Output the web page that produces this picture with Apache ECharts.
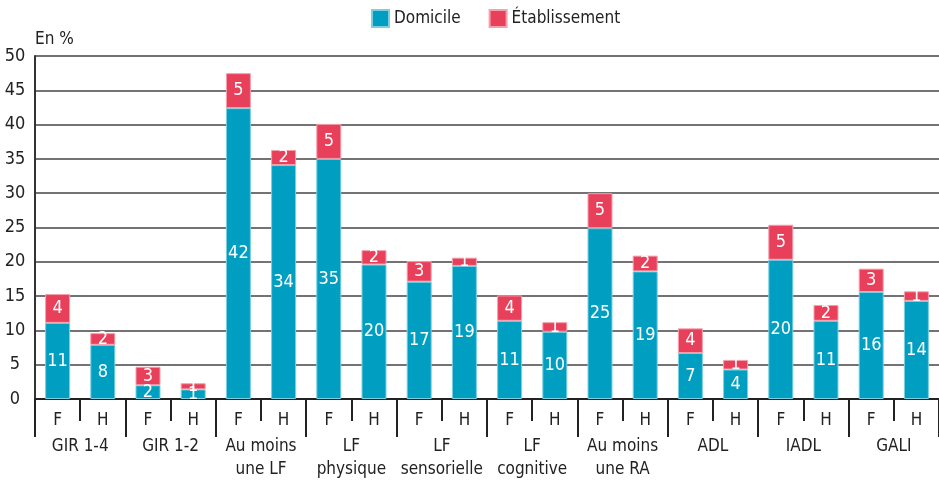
<!DOCTYPE html>
<html>
<head>
<meta charset="utf-8">
<script src="https://cdn.jsdelivr.net/npm/echarts@6/dist/echarts.min.js"></script>
<style>
  html, body { margin: 0; padding: 0; background: #fff; }
  #chart { width: 939px; height: 483px; }
</style>
</head>
<body>
<div id="chart"></div>
<script>
const sexes = ['F', 'H', 'F', 'H', 'F', 'H', 'F', 'H', 'F', 'H',
  'F', 'H', 'F', 'H', 'F', 'H', 'F', 'H', 'F', 'H'];
const groups = ['GIR 1-4', 'GIR 1-2', 'Au moins\nune LF', 'LF\nphysique', 'LF\nsensorielle',
  'LF\ncognitive', 'Au moins\nune RA', 'ADL', 'IADL', 'GALI'];
const domicile = [11.1, 7.9, 2.0, 1.4, 42.4, 34.1, 35.0, 19.6, 17.1, 19.4,
  11.4, 9.8, 24.9, 18.6, 6.7, 4.3, 20.3, 11.4, 15.6, 14.3];
const etablissement = [4.2, 1.7, 2.7, 0.9, 5.1, 2.2, 5.1, 2.1, 3.0, 1.2,
  3.7, 1.4, 5.1, 2.3, 3.6, 1.4, 5.1, 2.3, 3.4, 1.4];
const yTicks = [0, 50, 5];

const font = '"DejaVu Sans Condensed", "Liberation Sans Narrow", sans-serif';
const chart = echarts.init(document.getElementById('chart'));

const barLabel = {
  show: true,
  position: 'inside',
  color: '#fff',
  fontFamily: font,
  fontSize: 18,
  formatter: p => Math.round(p.value)
};

chart.setOption({
  animation: false,
  textStyle: { fontFamily: font },
  legend: {
    top: 4,
    left: 366,
    itemWidth: 17,
    itemHeight: 17,
    itemGap: 28,
    icon: 'rect',
    textStyle: { fontFamily: font, fontSize: 17, color: '#222' },
    data: ['Domicile', 'Établissement']
  },
  grid: { left: 35, right: 0, top: 56, bottom: 84, containLabel: false },
  xAxis: [
    {
      type: 'category',
      data: sexes,
      position: 'bottom',
      axisLine: { show: true, lineStyle: { color: '#222', width: 2 } },
      axisTick: { show: true, interval: 0, length: 22, lineStyle: { color: '#222', width: 2 } },
      axisLabel: { interval: 0, margin: 13, fontFamily: font, fontSize: 17, color: '#222' }
    },
    {
      type: 'category',
      data: groups,
      position: 'bottom',
      axisLine: { show: false },
      axisTick: { show: true, interval: 0, length: 38, lineStyle: { color: '#222', width: 2 } },
      axisLabel: { interval: 0, margin: 36, fontFamily: font, fontSize: 17, lineHeight: 23, color: '#222' }
    }
  ],
  yAxis: {
    type: 'value',
    min: yTicks[0],
    max: yTicks[1],
    interval: yTicks[2],
    name: 'En %',
    nameLocation: 'end',
    nameGap: 8,
    nameTextStyle: { fontFamily: font, fontSize: 17, color: '#222', align: 'left' },
    axisLine: { show: true, lineStyle: { color: '#333', width: 2 } },
    axisTick: { show: false },
    axisLabel: { fontFamily: font, fontSize: 18, color: '#222', align: 'center', margin: 20 },
    splitLine: { show: true, lineStyle: { color: '#444', width: 1.5 } }
  },
  series: [
    {
      name: 'Domicile',
      type: 'bar',
      stack: 'total',
      xAxisIndex: 0,
      barWidth: 25,
      data: domicile,
      itemStyle: { color: '#009fc2', borderColor: '#7ccfe0', borderWidth: 1 },
      label: barLabel
    },
    {
      name: 'Établissement',
      type: 'bar',
      stack: 'total',
      xAxisIndex: 0,
      barWidth: 25,
      data: etablissement,
      itemStyle: { color: '#e8405a', borderColor: '#f4a0ad', borderWidth: 1 },
      label: barLabel
    }
  ]
});
</script>
</body>
</html>
